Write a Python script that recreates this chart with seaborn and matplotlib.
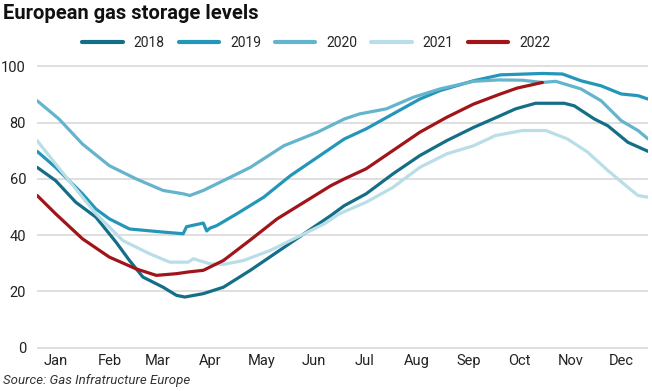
import matplotlib
matplotlib.use("Agg")
import matplotlib.pyplot as plt
import pandas as pd
import seaborn as sns

# day-of-year positions and storage levels (% full)
days_2018 = [1, 12, 24, 36, 48, 56, 64, 76, 84, 89, 100, 112, 128, 144, 160, 176, 184,
             197, 213, 229, 245, 261, 277, 286, 298, 315, 321, 333, 341, 353, 365]
vals_2018 = [64.1, 59.4, 51.7, 46.4, 37.5, 31.0, 25.1, 21.5, 18.6, 18.0, 19.2, 21.5, 27.5, 34.0, 40.5, 47.0, 50.5,
             54.7, 61.8, 68.3, 73.6, 78.3, 82.5, 84.9, 86.9, 86.9, 86.0, 81.3, 78.9, 73.0, 69.8]

days_2019 = [1, 12, 28, 36, 44, 56, 76, 88, 90, 100, 102, 104, 108, 120, 136, 152, 168, 184,
             197, 213, 229, 241, 261, 277, 302, 314, 325, 337, 349, 359, 365]
vals_2019 = [69.8, 64.1, 54.7, 49.3, 45.8, 42.2, 41.1, 40.5, 43.0, 44.3, 41.5, 42.5, 43.4, 47.6, 53.5, 61.2, 67.7, 74.2,
             77.8, 83.1, 88.4, 91.4, 94.9, 97.0, 97.5, 97.3, 94.9, 93.1, 90.2, 89.6, 88.4]

days_2020 = [1, 14, 28, 44, 60, 76, 88, 92, 100, 112, 128, 148, 168, 184, 193, 209, 225, 241,
             261, 276, 290, 302, 310, 325, 337, 349, 359, 365]
vals_2020 = [87.8, 81.3, 72.4, 64.7, 60.0, 55.9, 54.7, 54.1, 55.9, 59.4, 64.1, 71.8, 76.6, 81.3, 83.1, 84.9, 89.0, 92.0,
             94.7, 95.2, 95.1, 94.3, 94.7, 92.0, 87.8, 80.7, 77.2, 74.2]

days_2021 = [1, 12, 28, 36, 52, 68, 80, 91, 94, 104, 112, 124, 140, 156, 172, 181, 197, 213,
             229, 245, 261, 274, 290, 304, 317, 329, 341, 353, 359, 365]
vals_2021 = [73.6, 65.3, 53.5, 47.6, 38.1, 33.4, 30.4, 30.4, 31.6, 29.8, 29.6, 31.0, 34.6, 39.3, 44.0, 47.6, 51.7, 57.0,
             64.1, 68.9, 71.8, 75.4, 77.2, 77.2, 74.2, 69.5, 63.0, 57.0, 54.1, 53.5]

days_2022 = [1, 12, 28, 44, 60, 72, 84, 91, 100, 112, 128, 144, 160, 176, 184, 197, 213, 229,
             245, 261, 277, 287, 302]
vals_2022 = [54.1, 47.6, 38.7, 32.2, 28.0, 25.7, 26.3, 26.9, 27.5, 31.0, 38.3, 45.8, 51.7, 57.6, 60.0, 63.6, 70.1, 76.6,
             81.9, 86.6, 90.2, 92.3, 94.3]

years = ["2018", "2019", "2020", "2021", "2022"]
colors = ["#156e87", "#2396b9", "#64b4cd", "#b9dee8", "#a0141a"]
month_labels = ["Jan", "Feb", "Mar", "Apr", "May", "Jun", "Jul", "Aug", "Sep", "Oct", "Nov", "Dec"]
month_ticks = [12, 44, 73, 104, 135, 166, 196, 227, 258, 288, 319, 349]

frames = []
for yr, d, v in zip(years, [days_2018, days_2019, days_2020, days_2021, days_2022],
                    [vals_2018, vals_2019, vals_2020, vals_2021, vals_2022]):
    frames.append(pd.DataFrame({"day": d, "level": v, "year": yr}))
df = pd.concat(frames, ignore_index=True)

sns.set_theme(style="white")
plt.rcParams["font.family"] = ["Roboto", "DejaVu Sans"]

fig = plt.figure(figsize=(6.52, 3.91), dpi=100)
ax = fig.add_axes([0.057, 0.108, 0.937, 0.725])

sns.lineplot(data=df, x="day", y="level", hue="year", palette=dict(zip(years, colors)),
             linewidth=2.3, sort=False, ax=ax, legend=False)

ax.set_xlim(1, 365)
ax.set_ylim(-0.4, 100.4)
ax.set_yticks([0, 20, 40, 60, 80, 100])
ax.set_xticks(month_ticks)
ax.set_xticklabels(month_labels)
ax.tick_params(axis="both", length=0, labelsize=10.5, colors="#222222")
ax.tick_params(axis="y", pad=8)
ax.tick_params(axis="x", pad=4)
ax.grid(axis="y", color="#d9d9d9", linewidth=1.2)
ax.set_axisbelow(True)
ax.set_xlabel("")
ax.set_ylabel("")
for s in ax.spines.values():
    s.set_visible(False)

handles = [plt.Line2D([], [], color=c, linewidth=3) for c in colors]
fig.legend(handles, years, loc="center", bbox_to_anchor=(0.485, 0.89), ncol=5,
           frameon=False, fontsize=10, handlelength=2.9, columnspacing=1.0, handletextpad=0.8)

fig.text(0.005, 0.99, "European gas storage levels", fontsize=14.5, fontweight="bold",
         va="top", ha="left", color="#111111")
fig.text(0.005, 0.01, "Source: Gas Infratructure Europe", fontsize=9.5, style="italic",
         va="bottom", ha="left", color="#333333")

fig.savefig("out.png", dpi=100)
